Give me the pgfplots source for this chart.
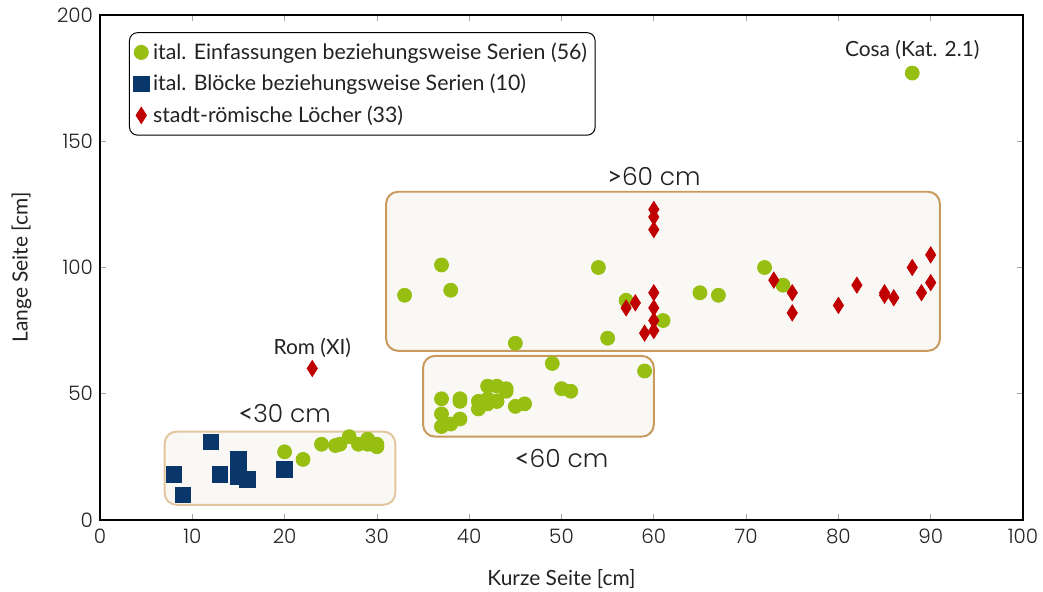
\documentclass[border=0pt]{standalone}
\usepackage{pgfplots}
\pgfplotsset{compat=1.18}
\usepackage{fontspec}
\setmainfont{Lato}
\newfontfamily\numfont{Poppins}[UprightFont=* Light]
\usetikzlibrary{plotmarks}
\definecolor{cgreen}{HTML}{97BF12}
\definecolor{cblue}{HTML}{0A376B}
\definecolor{cred}{HTML}{C00000}
\definecolor{boxfill}{HTML}{FAF8F4}
\definecolor{boxdark}{HTML}{C99A5E}
\definecolor{boxlight}{HTML}{E2C69E}
\definecolor{txt}{HTML}{222222}
\begin{document}
\begin{tikzpicture}
\begin{axis}[
  scale only axis, width=461.5bp, height=252.5bp,
  xmin=0, xmax=100, ymin=0, ymax=200,
  xtick={0,10,...,100}, ytick={0,50,...,200},
  tick align=inside, major tick length=3bp,
  tick style={gray!70, thin},
  axis line style={black, line width=0.6pt},
  ticklabel style={font=\numfont\fontsize{10}{12}\selectfont, text=txt},
  /pgf/number format/assume math mode=true,
  xticklabel style={yshift=-1bp},
  xlabel={Kurze Seite [cm]}, ylabel={Lange Seite [cm]},
  label style={font=\fontsize{10.5}{12}\selectfont, text=txt},
  xlabel style={yshift=-6bp},
  ylabel style={yshift=6bp},
  legend cell align=left,
  legend style={at={(0.0314,0.966)}, anchor=north west, draw=black, rounded corners=4bp,
    font=\fontsize{10.7}{12}\selectfont, text=txt, inner xsep=2bp, inner ysep=3bp,
    row sep=2bp, line width=0.5pt},
  legend image code/.code={\draw[mark repeat=2,mark phase=2,#1] plot coordinates {(0cm,0cm)(0.1cm,0cm)(0.2cm,0cm)};},
]
% boxes
\draw[boxlight, line width=1pt, fill=boxfill, rounded corners=6bp] (axis cs:7,6) rectangle (axis cs:32,35);
\draw[boxdark, line width=1pt, fill=boxfill, rounded corners=6bp] (axis cs:35,33) rectangle (axis cs:60,65);
\draw[boxdark, line width=1pt, fill=boxfill, rounded corners=6bp] (axis cs:31,67) rectangle (axis cs:91,130);
\addplot[only marks, mark=*, mark size=3.5bp, color=cgreen, mark options={draw=none, fill=cgreen}] coordinates {
(88,177) (33,89) (37,101) (38,91) (45,70) (54,100) (57,87) (55,72) (61,79) (65,90) (67,89) (72,100) (74,93)
(49,62) (59,59) (37,48) (39,47) (37,42) (39,40) (38,38) (37,37) (42,53) (43,53) (44,52) (44,51)
(41,47) (42,48) (41,44) (42,46) (43,47) (45,45) (46,46) (50,52) (51,51) (39,48) (42,47) (43,47)
(20,27) (22,24) (24,30) (25.5,29.5) (26,30) (27,33) (28,30) (29,32) (29,30) (30,30) (30,29)
};
\addlegendentry{ital. Einfassungen beziehungsweise Serien (56)}
\addplot[only marks, mark=square*, mark size=3.9bp, color=cblue, mark options={draw=none, fill=cblue}] coordinates {
(12,31) (8,18) (9,10) (13,18) (15,24) (15,17) (15,18) (16,16) (20,20)
};
\addlegendentry{ital. Blöcke beziehungsweise Serien (10)}
\addplot[only marks, mark=diamond*, mark size=4bp, color=cred, mark options={draw=none, fill=cred, xscale=0.85}] coordinates {
(60,123) (60,120) (60,115) (60,90) (60,84) (60,79) (60,75)
(57,84) (58,86) (59,74) (73,95) (75,90) (75,82) (80,85) (82,93) (85,90) (85,89) (86,88)
(88,100) (89,90) (90,105) (90,94) (23,60)
};
\addlegendentry{stadt-römische Löcher (33)}
% annotations
\node[font=\fontsize{10.5}{12}\selectfont, text=txt] at (axis cs:88,186) {Cosa (Kat. 2.1)};
\node[font=\fontsize{10.5}{12}\selectfont, text=txt] at (axis cs:23,68) {Rom (XI)};
\node[font=\numfont\fontsize{12.5}{14}\selectfont, text=txt] at (axis cs:20,42) {{\rmfamily\fontsize{13}{14}\selectfont<}30 cm};
\node[font=\numfont\fontsize{12.5}{14}\selectfont, text=txt] at (axis cs:50,24.5) {{\rmfamily\fontsize{13}{14}\selectfont<}60 cm};
\node[font=\numfont\fontsize{12.5}{14}\selectfont, text=txt] at (axis cs:60,136) {{\rmfamily\fontsize{13}{14}\selectfont>}60 cm};
\end{axis}
\pgfresetboundingbox
\path (current axis.south west)+(-50bp,-36bp) rectangle ([shift={(10bp,7.5bp)}]current axis.north east);
\end{tikzpicture}
\end{document}
